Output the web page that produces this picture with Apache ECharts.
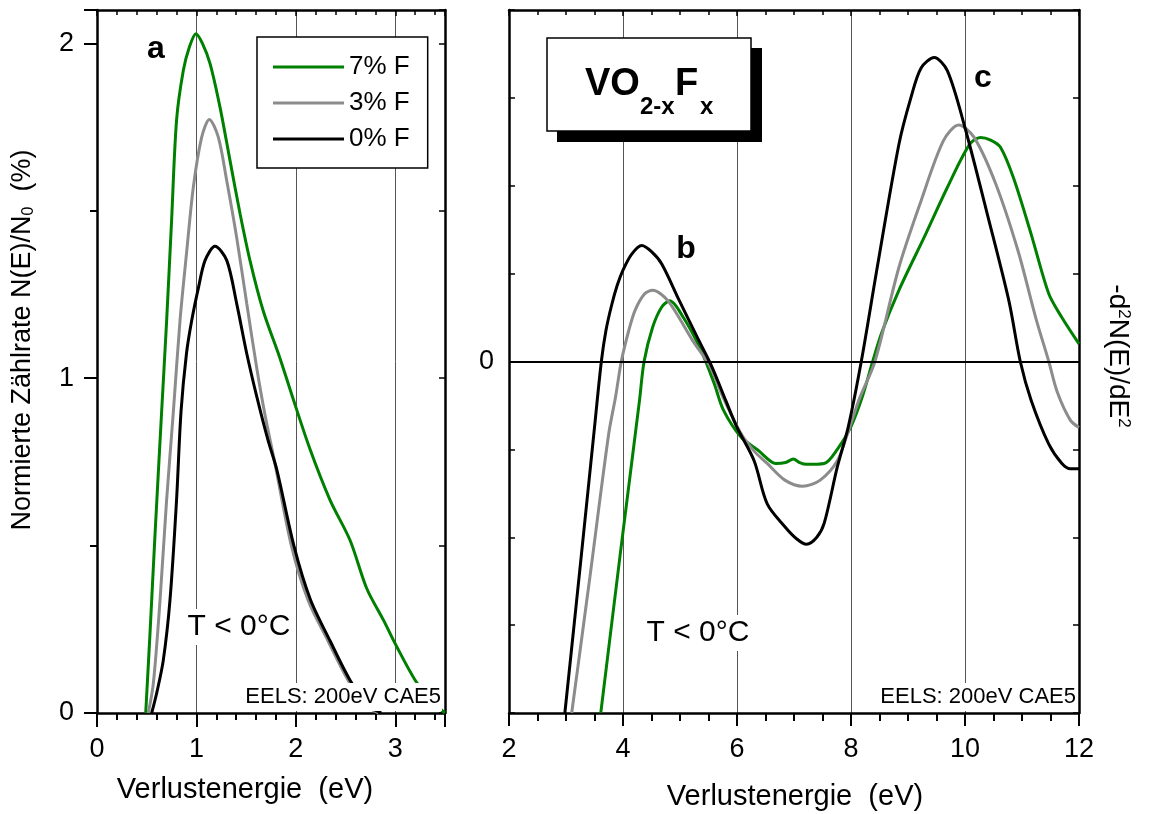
<!DOCTYPE html>
<html>
<head>
<meta charset="utf-8">
<script src="https://cdn.jsdelivr.net/npm/echarts@6/dist/echarts.min.js"></script>
<style>html,body{margin:0;padding:0;background:#fff}#c{width:1149px;height:814px}</style>
</head>
<body>
<div id="c"></div>
<script>
// ---------- data ----------
const seriesNames = ['7% F', '3% F', '0% F'];
const seriesColors = ['#008000', '#8c8c8c', '#000000'];

// Panel a: normalised count rate N(E)/N0 (%) vs loss energy (eV)
const a7X = [0.49,0.533,0.584,0.65,0.70,0.75,0.80,0.868,0.93,0.996,1.06,1.137,1.237,1.338,1.44,1.54,1.673,1.84,1.96,2.14,2.344,2.545,2.713,2.88,3.015,3.2,3.35,3.5];
const a7Y = [0,0.238,0.536,0.9,1.17,1.47,1.77,1.919,1.99,2.029,2.0,1.94,1.81,1.65,1.49,1.35,1.2,1.06,0.95,0.79,0.636,0.516,0.372,0.278,0.198,0.098,0.04,0];
const a3X = [0.516,0.567,0.634,0.70,0.768,0.835,0.90,0.969,1.053,1.13,1.22,1.305,1.405,1.506,1.607,1.69,1.79,1.955,2.123,2.324,2.525,2.70,2.83];
const a3Y = [0,0.089,0.337,0.636,0.9,1.173,1.372,1.571,1.72,1.773,1.72,1.59,1.42,1.223,1.03,0.89,0.745,0.5,0.337,0.215,0.098,0.025,0];
const a0X = [0.55,0.60,0.667,0.734,0.80,0.845,0.90,0.953,1.02,1.087,1.187,1.305,1.405,1.506,1.607,1.72,1.81,1.98,2.145,2.345,2.545,2.72,2.86];
const a0Y = [0,0.059,0.158,0.337,0.636,0.9,1.074,1.173,1.27,1.352,1.394,1.352,1.223,1.074,0.945,0.815,0.725,0.5,0.34,0.215,0.098,0.025,0];

// Panel b/c: -d2N(E)/dE2 (arb. units) vs loss energy (eV)
const b7X = [3.61,3.95,4.29,4.37,4.52,4.68,4.82,5.06,5.37,5.6,5.76,6.07,6.37,6.68,6.85,6.99,7.1,7.22,7.53,7.76,8.0,8.2,8.38,8.54,8.84,9.31,9.69,10.08,10.27,10.45,10.62,10.85,11.16,11.47,11.7,12.0];
const b7Y = [-4.0,-2.2,-0.44,0,0.39,0.62,0.69,0.5,0.125,-0.25,-0.55,-0.86,-1.01,-1.16,-1.15,-1.11,-1.15,-1.17,-1.16,-1.0,-0.74,-0.4,0,0.33,0.81,1.45,1.98,2.47,2.55,2.52,2.44,2.09,1.45,0.77,0.5,0.2];
const b3X = [3.1,3.42,3.75,3.87,3.97,4.1,4.21,4.38,4.52,4.79,5.22,5.53,5.75,6.07,6.3,6.53,6.84,7.15,7.46,7.76,7.95,8.15,8.42,8.84,9.23,9.62,9.89,10.16,10.54,10.93,11.24,11.47,11.62,11.85,12.0];
const b3Y = [-4.0,-2.45,-0.82,-0.4,0,0.35,0.58,0.77,0.81,0.69,0.24,-0.06,-0.4,-0.82,-1.02,-1.16,-1.35,-1.42,-1.35,-1.13,-0.8,-0.42,0,1.07,1.83,2.51,2.69,2.55,2.02,1.26,0.5,0,-0.35,-0.67,-0.75];
const b0X = [2.98,3.27,3.5,3.62,3.7,3.8,3.9,4.0,4.15,4.33,4.5,4.68,4.99,5.33,5.56,5.8,6.0,6.3,6.53,6.84,7.05,7.22,7.4,7.53,7.76,7.95,8.18,8.46,8.84,9.05,9.23,9.46,9.69,10.0,10.39,10.77,10.97,11.16,11.47,11.7,11.85,12.0];
const b0Y = [-4.0,-2.2,-0.75,0,0.35,0.64,0.87,1.04,1.22,1.32,1.25,1.11,0.69,0.24,-0.06,-0.44,-0.75,-1.13,-1.62,-1.88,-2.02,-2.08,-2.0,-1.84,-1.2,-0.75,0,1.07,2.47,3.0,3.34,3.46,3.31,2.66,1.68,0.69,0,-0.44,-0.94,-1.16,-1.22,-1.22];

// ---------- chart ----------
const F = '"Liberation Sans", Arial, Helvetica, sans-serif';
const zip = (xs, ys) => xs.map((x, i) => [x, ys[i]]);
const chart = echarts.init(document.getElementById('c'), null, {renderer: 'canvas'});

const frameLine = {show: true, onZero: false, lineStyle: {color: '#000', width: 2.5}};
const gridLine = {show: true, lineStyle: {color: '#555', width: 1}};
const noGrid = {show: false};
const intOnly = v => (Math.abs(v - Math.round(v)) < 1e-9 ? String(Math.round(v)) : '');

function lineSeries(name, color, data, xi, yi, extra) {
  return Object.assign({
    type: 'line', name: name, xAxisIndex: xi, yAxisIndex: yi, data: data,
    symbol: 'none', showSymbol: false, smooth: 0.3, clip: true,
    lineStyle: {color: color, width: 3}, itemStyle: {color: color},
    emphasis: {disabled: true}
  }, extra || {});
}

const zeroLine = {
  silent: true, symbol: ['none', 'none'], label: {show: false},
  lineStyle: {color: '#000', width: 2, type: 'solid'},
  data: [{yAxis: 0}]
};

const option = {
  animation: false,
  backgroundColor: '#fff',
  textStyle: {fontFamily: F, color: '#000'},
  grid: [
    {left: 97, top: 10, width: 348, height: 703, outerBoundsMode: 'none', containLabel: false},
    {left: 509, top: 10, width: 570, height: 703, outerBoundsMode: 'none', containLabel: false}
  ],
  legend: {
    data: seriesNames, orient: 'vertical', left: 257, top: 37,
    padding: [17, 18, 16, 16], itemGap: 10, itemWidth: 71, itemHeight: 3, icon: 'rect',
    backgroundColor: '#fff', borderColor: '#000', borderWidth: 1.5, borderRadius: 0,
    textStyle: {fontSize: 26, color: '#000', fontFamily: F},
    selectedMode: false, z: 20
  },
  xAxis: [
    {gridIndex: 0, type: 'value', min: 0, max: 3.5, interval: 1, position: 'bottom',
     axisLine: frameLine,
     axisTick: {show: true, inside: false, length: 14, lineStyle: {color: '#000', width: 2}},
     minorTick: {show: true, splitNumber: 5, length: 7, lineStyle: {color: '#000', width: 2}},
     axisLabel: {fontSize: 27, color: '#000', margin: 23, formatter: intOnly, fontFamily: F},
     splitLine: gridLine, minorSplitLine: {show: false}},
    {gridIndex: 0, type: 'value', min: 0, max: 3.5, interval: 1, position: 'top',
     axisLine: frameLine,
     axisTick: {show: true, inside: true, length: 6, lineStyle: {color: '#000', width: 1.5}},
     minorTick: {show: true, splitNumber: 5, length: 5, lineStyle: {color: '#000', width: 1.5}},
     axisLabel: {show: false}, splitLine: noGrid},
    {gridIndex: 1, type: 'value', min: 2, max: 12, interval: 2, position: 'bottom',
     axisLine: frameLine,
     axisTick: {show: true, inside: false, length: 13, lineStyle: {color: '#000', width: 2}},
     minorTick: {show: true, splitNumber: 4, length: 8, lineStyle: {color: '#000', width: 2}},
     axisLabel: {fontSize: 27, color: '#000', margin: 23, fontFamily: F},
     splitLine: gridLine, minorSplitLine: {show: false}},
    {gridIndex: 1, type: 'value', min: 2, max: 12, interval: 2, position: 'top',
     axisLine: frameLine,
     axisTick: {show: true, inside: true, length: 6, lineStyle: {color: '#000', width: 1.5}},
     minorTick: {show: true, splitNumber: 4, length: 5, lineStyle: {color: '#000', width: 1.5}},
     axisLabel: {show: false}, splitLine: noGrid}
  ],
  yAxis: [
    {gridIndex: 0, type: 'value', min: 0, max: 2.1, interval: 1, position: 'left',
     axisLine: frameLine,
     axisTick: {show: true, inside: false, length: 13, lineStyle: {color: '#000', width: 2}},
     minorTick: {show: true, splitNumber: 2, length: 7, lineStyle: {color: '#000', width: 2}},
     axisLabel: {fontSize: 27, color: '#000', margin: 23, formatter: intOnly, fontFamily: F},
     splitLine: noGrid},
    {gridIndex: 0, type: 'value', min: 0, max: 2.1, interval: 1, position: 'right',
     axisLine: frameLine,
     axisTick: {show: true, inside: true, length: 6, lineStyle: {color: '#000', width: 1.5}},
     minorTick: {show: true, splitNumber: 2, length: 6, lineStyle: {color: '#000', width: 1.5}},
     axisLabel: {show: false}, splitLine: noGrid},
    {gridIndex: 1, type: 'value', min: -4, max: 4, interval: 1, position: 'left',
     axisLine: frameLine,
     axisTick: {show: true, inside: true, length: 6, lineStyle: {color: '#000', width: 1.5}},
     axisLabel: {fontSize: 27, color: '#000', margin: 15, fontFamily: F, formatter: v => (v === 0 ? '0' : '')},
     splitLine: noGrid},
    {gridIndex: 1, type: 'value', min: -4, max: 4, interval: 1, position: 'right',
     axisLine: frameLine,
     axisTick: {show: true, inside: true, length: 6, lineStyle: {color: '#000', width: 1.5}},
     axisLabel: {show: false}, splitLine: noGrid}
  ],
  series: [
    lineSeries(seriesNames[0], seriesColors[0], zip(a7X, a7Y), 0, 0),
    lineSeries(seriesNames[1], seriesColors[1], zip(a3X, a3Y), 0, 0),
    lineSeries(seriesNames[2], seriesColors[2], zip(a0X, a0Y), 0, 0),
    lineSeries(seriesNames[0], seriesColors[0], zip(b7X, b7Y), 2, 2, {markLine: zeroLine}),
    lineSeries(seriesNames[1], seriesColors[1], zip(b3X, b3Y), 2, 2),
    lineSeries(seriesNames[2], seriesColors[2], zip(b0X, b0Y), 2, 2)
  ],
  graphic: [
    // axis names
    {type: 'text', x: 23, y: 340, rotation: Math.PI / 2, z: 100,
     style: {text: '{n|Normierte Zählrate N(E)/N}{s|0}{n|  (%)}', align: 'center', verticalAlign: 'middle',
       rich: {n: {fontSize: 27, fontFamily: F, fill: '#000'}, s: {fontSize: 16, fontFamily: F, fill: '#000', verticalAlign: 'bottom'}}}},
    {type: 'text', x: 1118, y: 356, rotation: -Math.PI / 2, z: 100,
     style: {text: '{n|-d}{p|2}{n|N(E)/dE}{p|2}', align: 'center', verticalAlign: 'middle',
       rich: {n: {fontSize: 28, fontFamily: F, fill: '#000'}, p: {fontSize: 17, fontFamily: F, fill: '#000', verticalAlign: 'top'}}}},
    {type: 'text', x: 245, y: 790, z: 100,
     style: {text: 'Verlustenergie  (eV)', fontSize: 29, fontFamily: F, fill: '#000', align: 'center', verticalAlign: 'middle'}},
    {type: 'text', x: 795, y: 797, z: 100,
     style: {text: 'Verlustenergie  (eV)', fontSize: 29, fontFamily: F, fill: '#000', align: 'center', verticalAlign: 'middle'}},
    // peak letters
    {type: 'text', x: 156, y: 49, z: 100,
     style: {text: 'a', fontSize: 32, fontWeight: 'bold', fontFamily: F, fill: '#000', align: 'center', verticalAlign: 'middle'}},
    {type: 'text', x: 686, y: 249, z: 100,
     style: {text: 'b', fontSize: 32, fontWeight: 'bold', fontFamily: F, fill: '#000', align: 'center', verticalAlign: 'middle'}},
    {type: 'text', x: 983, y: 78, z: 100,
     style: {text: 'c', fontSize: 32, fontWeight: 'bold', fontFamily: F, fill: '#000', align: 'center', verticalAlign: 'middle'}},
    // temperature notes
    {type: 'text', x: 239, y: 627, z: 100,
     style: {text: 'T < 0°C', fontSize: 30, fontFamily: F, fill: '#000', align: 'center', verticalAlign: 'middle',
       backgroundColor: '#fff', padding: [3, 4, 3, 4]}},
    {type: 'text', x: 698, y: 633, z: 100,
     style: {text: 'T < 0°C', fontSize: 30, fontFamily: F, fill: '#000', align: 'center', verticalAlign: 'middle',
       backgroundColor: '#fff', padding: [3, 4, 3, 4]}},
    // instrument notes
    {type: 'text', x: 442, y: 697, z: 100,
     style: {text: 'EELS: 200eV CAE5', fontSize: 22, fontFamily: F, fill: '#000', align: 'right', verticalAlign: 'middle',
       backgroundColor: '#fff', padding: [3, 1, 3, 3]}},
    {type: 'text', x: 1077, y: 697, z: 100,
     style: {text: 'EELS: 200eV CAE5', fontSize: 22, fontFamily: F, fill: '#000', align: 'right', verticalAlign: 'middle',
       backgroundColor: '#fff', padding: [3, 1, 3, 3]}},
    // formula box
    {type: 'rect', z: 100, shape: {x: 557, y: 48, width: 205, height: 94}, style: {fill: '#000'}},
    {type: 'rect', z: 101, shape: {x: 547, y: 38, width: 204, height: 93}, style: {fill: '#fff', stroke: '#000', lineWidth: 1.5}},
    {type: 'text', x: 585, y: 85, z: 102,
     style: {text: 'VO', fontSize: 38, fontWeight: 'bold', fontFamily: F, fill: '#000', align: 'left', verticalAlign: 'middle'}},
    {type: 'text', x: 640, y: 107, z: 102,
     style: {text: '2-x', fontSize: 24, fontWeight: 'bold', fontFamily: F, fill: '#000', align: 'left', verticalAlign: 'middle'}},
    {type: 'text', x: 675, y: 85, z: 102,
     style: {text: 'F', fontSize: 38, fontWeight: 'bold', fontFamily: F, fill: '#000', align: 'left', verticalAlign: 'middle'}},
    {type: 'text', x: 700, y: 107, z: 102,
     style: {text: 'x', fontSize: 24, fontWeight: 'bold', fontFamily: F, fill: '#000', align: 'left', verticalAlign: 'middle'}}
  ]
};
chart.setOption(option);
</script>
</body>
</html>
